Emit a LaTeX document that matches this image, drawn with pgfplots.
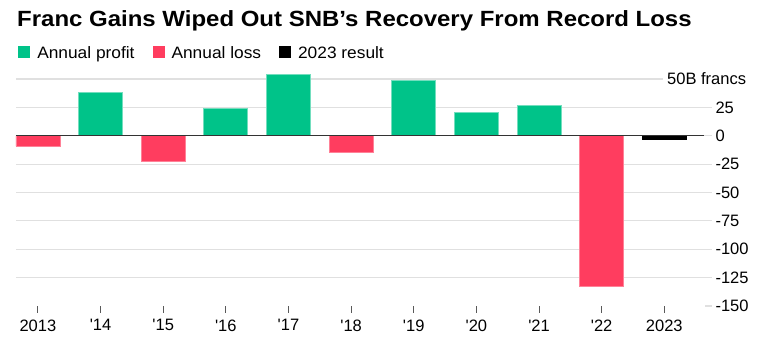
\documentclass[border=0pt]{standalone}
\usepackage{fontspec}
\setmainfont{Liberation Sans}[Ligatures=TeXOff]
\newfontfamily\widefont{Liberation Sans}[Ligatures=TeXOff, FakeStretch=1.09]
\newfontfamily\legfont{Liberation Sans}[Ligatures=TeXOff, FakeStretch=1.05]
\usepackage{pgfplots}
\pgfplotsset{compat=1.18}
\definecolor{profit}{HTML}{00C389}
\definecolor{loss}{HTML}{FF3D5F}
\definecolor{gridc}{HTML}{E0E0E0}
\definecolor{zeroc}{HTML}{333333}
\begin{document}
\begin{tikzpicture}
\path[use as bounding box] (0,0) rectangle (777pt,353pt);
\node[anchor=base west, inner sep=0pt, font=\widefont\fontsize{22}{26}\selectfont\bfseries] at (17pt,326pt) {Franc Gains Wiped Out SNB’s Recovery From Record Loss};
\begin{axis}[
  at={(16pt,47pt)}, anchor=south west,
  scale only axis, width=689pt, height=227pt,
  xmin=-0.35, xmax=10.65, ymin=-150, ymax=50,
  clip=false,
  axis line style={draw=none},
  ybar, bar width=44pt, bar shift=0pt,
  xtick={0,...,10},
  xticklabels={2013,'14,'15,'16,'17,'18,'19,'20,'21,'22,2023},
  x tick style={draw=black!65, line width=0.9pt},
  xtick pos=bottom, xtick align=outside,
  ytick={-125,-100,-75,-50,-25,0,25,50},
  yticklabels={-125,-100,-75,-50,-25,0,25,},
  extra y ticks={-150}, extra y tick labels={-150},
  extra y tick style={grid=none},
  ytick pos=right, yticklabel pos=right, ytick align=outside,
  y tick style={draw=gridc, line width=1.2pt},
  major tick length=7pt,
  ymajorgrids, grid style={draw=gridc, line width=1.2pt},
  tick label style={font=\fontsize{16.5}{18}\selectfont, text=black},
  yticklabel style={anchor=west, xshift=0pt},
  xticklabel style={yshift=-3pt},
  legend style={draw=none, fill=none, at={(axis description cs:0.003,1.147)}, anchor=north west,
    font=\legfont\fontsize{16.5}{18}\selectfont, inner sep=0pt,
    nodes={inner sep=0pt},
    /tikz/every odd column/.append style={column sep=7pt},
    /tikz/every even column/.append style={column sep=18pt}},
  legend columns=-1,
  legend image code/.code={\fill[#1,draw=none] (0pt,-5pt) rectangle (12pt,7pt);},
]
\addplot[fill=profit, draw=profit!55!white, line width=0.8pt] coordinates {(1,38.3) (3,24.0) (4,54.2) (6,48.8) (7,20.9) (8,26.3)};
\addlegendentry{Annual profit}
\addplot[fill=loss, draw=loss!65!white, line width=0.8pt] coordinates {(0,-9.1) (2,-22.8) (5,-14.8) (9,-132.5)};
\addlegendentry{Annual loss}
\addplot[fill=black, draw=black, line width=0.5pt] coordinates {(10,-3.0)};
\addlegendentry{2023 result}
\draw[zeroc, line width=1pt] (axis cs:-0.35,0) -- (axis cs:10.63,0);
\node[anchor=west, fill=white, inner xsep=4pt, inner ysep=2pt, font=\fontsize{16.5}{18}\selectfont] at (axis cs:10.65,50) [xshift=-42pt] {50B francs};
\end{axis}
\end{tikzpicture}
\end{document}
